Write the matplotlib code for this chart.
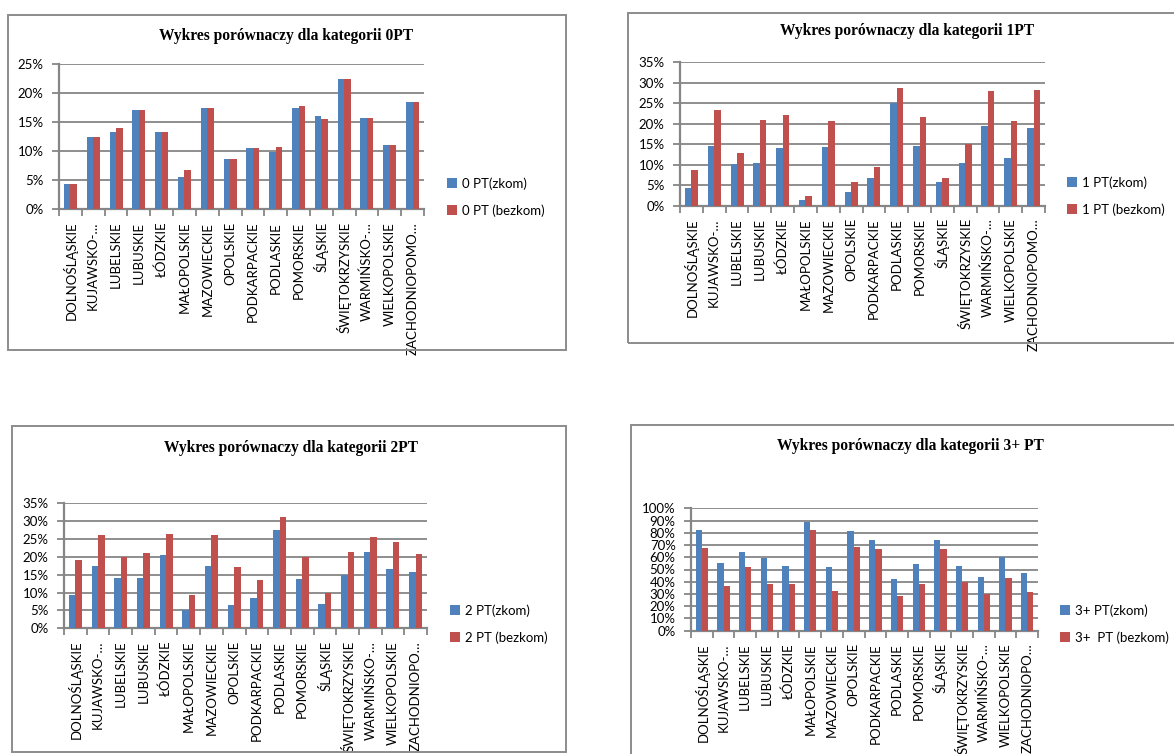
import matplotlib
matplotlib.use("Agg")
import matplotlib.pyplot as plt
from matplotlib.patches import Rectangle
import numpy as np

# Voivodeship labels (truncated as in the source spreadsheet)
regions_a = ["DOLNOŚLĄSKIE", "KUJAWSKO-…", "LUBELSKIE", "LUBUSKIE", "ŁÓDZKIE",
             "MAŁOPOLSKIE", "MAZOWIECKIE", "OPOLSKIE", "PODKARPACKIE", "PODLASKIE",
             "POMORSKIE", "ŚLĄSKIE", "ŚWIĘTOKRZYSKIE", "WARMIŃSKO-…", "WIELKOPOLSKIE",
             "ZACHODNIOPOMO…"]
regions_b = regions_a[:-1] + ["ZACHODNIOPO…"]

# Shares in percent: with (zkom) and without (bezkom) the adjustment
pt0_zkom = [4.3, 12.4, 13.3, 17.0, 13.3, 5.6, 17.4, 8.7, 10.5, 9.8, 17.4, 16.1, 22.5, 15.7, 11.1, 18.5]
pt0_bezkom = [4.3, 12.5, 14.0, 17.0, 13.3, 6.7, 17.4, 8.7, 10.5, 10.7, 17.8, 15.6, 22.5, 15.7, 11.1, 18.5]

pt1_zkom = [4.4, 14.6, 10.1, 10.3, 14.0, 1.3, 14.3, 3.3, 6.7, 25.0, 14.6, 5.8, 10.3, 19.4, 11.5, 18.9]
pt1_bezkom = [8.6, 23.3, 12.8, 20.8, 22.0, 2.4, 20.6, 5.8, 9.4, 28.7, 21.6, 6.7, 15.1, 28.0, 20.6, 28.2]

pt2_zkom = [9.2, 17.3, 14.1, 14.1, 20.4, 5.1, 17.3, 6.5, 8.5, 27.5, 13.8, 6.9, 14.8, 21.2, 16.6, 15.7]
pt2_bezkom = [19.1, 26.2, 20.0, 20.9, 26.4, 9.2, 26.2, 17.0, 13.5, 31.1, 20.0, 9.9, 21.2, 25.5, 24.2, 20.7]

pt3_zkom = [82.0, 55.3, 64.0, 59.1, 52.6, 88.6, 51.8, 81.2, 74.4, 42.0, 54.5, 74.4, 52.6, 43.9, 60.2, 46.9]
pt3_bezkom = [67.6, 36.5, 52.0, 38.1, 38.1, 82.0, 32.4, 68.4, 66.8, 28.6, 38.1, 66.8, 40.1, 29.7, 43.1, 31.6]

titles = ["Wykres porównaczy dla kategorii 0PT", "Wykres porównaczy dla kategorii 1PT",
          "Wykres porównaczy dla kategorii 2PT", "Wykres porównaczy dla kategorii 3+ PT"]
legend_labels = [("0 PT(zkom)", "0 PT (bezkom)"), ("1 PT(zkom)", "1 PT (bezkom)"),
                 ("2 PT(zkom)", "2 PT (bezkom)"), ("3+ PT(zkom)", "3+  PT (bezkom)")]
y_max = [25, 35, 35, 100]
y_step = [5, 5, 5, 10]

W, H = 1174, 754
DPI = 100
BLUE = "#4F81BD"
RED = "#C0504D"
GRID = "#868686"
SANS = ["Lato", "DejaVu Sans"]
SERIF = ["Liberation Serif", "DejaVu Serif"]

fig = plt.figure(figsize=(W / DPI, H / DPI), dpi=DPI)
fig.patch.set_facecolor("white")

# Layout in pixels: plot area (l, t, r, b), frame (l, t, r, b), title centre, legend top-left
layout = [
    dict(plot=(59, 64, 424, 209.3), frame=(8, 15, 566, 350), title=(286, 36), legend=(447, 177)),
    dict(plot=(680, 62, 1045, 205.7), frame=(628, 13, 1185, 343), title=(907, 31), legend=(1067, 176)),
    dict(plot=(64, 503, 427, 628.3), frame=(12, 426, 566, 752), title=(291, 448), legend=(450, 604)),
    dict(plot=(691, 508.3, 1038, 630.7), frame=(631, 425, 1185, 770), title=(910, 446), legend=(1060, 604)),
]

series = [(pt0_zkom, pt0_bezkom), (pt1_zkom, pt1_bezkom),
          (pt2_zkom, pt2_bezkom), (pt3_zkom, pt3_bezkom)]
labels_sets = [regions_a, regions_a, regions_b, regions_b]


def px_rect(l, t, r, b):
    return [l / W, 1 - b / H, (r - l) / W, (b - t) / H]


for k in range(4):
    lay = layout[k]
    fl, ft, fr, fb = lay["frame"]
    fig.patches.append(Rectangle((fl / W, 1 - fb / H), (fr - fl) / W, (fb - ft) / H,
                                 transform=fig.transFigure, fill=False,
                                 edgecolor="#8C8C8C", linewidth=1.4, zorder=0))
    ax = fig.add_axes(px_rect(*lay["plot"]))
    zkom, bezkom = series[k]
    x = np.arange(len(zkom))
    bw = 0.286
    b1 = ax.bar(x - bw / 2, zkom, width=bw, color=BLUE, zorder=3, label=legend_labels[k][0])
    b2 = ax.bar(x + bw / 2, bezkom, width=bw, color=RED, zorder=3, label=legend_labels[k][1])

    ax.set_xlim(-0.5, len(zkom) - 0.5)
    ax.set_ylim(0, y_max[k])
    ax.set_yticks(np.arange(0, y_max[k] + 0.1, y_step[k]))
    ax.set_yticklabels([f"{int(v)}%" for v in ax.get_yticks()], fontfamily=SANS, fontsize=9.5)
    ax.yaxis.grid(True, color=GRID, linewidth=1.3, zorder=0)
    ax.set_axisbelow(True)

    # Category boundaries carry the tick marks, centres carry the labels
    ax.set_xticks(np.arange(-0.5, len(zkom), 1.0))
    ax.set_xticklabels([])
    ax.set_xticks(x, minor=True)
    ax.set_xticklabels(labels_sets[k], minor=True, rotation=90, fontfamily=SANS,
                       fontsize=9.5, va="top", ha="center")
    ax.tick_params(axis="x", which="major", length=5, width=1.3, color=GRID, direction="out")
    ax.tick_params(axis="x", which="minor", length=0, pad=9)
    ax.tick_params(axis="y", length=5, width=1.3, color=GRID, pad=6, direction="out")

    for side in ("top", "right"):
        ax.spines[side].set_visible(False)
    for side in ("left", "bottom"):
        ax.spines[side].set_color(GRID)
        ax.spines[side].set_linewidth(1.6)

    tx, ty = lay["title"]
    fig.text(tx / W, 1 - ty / H, titles[k], ha="center", va="center",
             fontfamily=SERIF, fontweight="bold", fontsize=11.2)

    lx, ly = lay["legend"]
    ax.legend(handles=[b1, b2], loc="upper left", bbox_to_anchor=(lx / W, 1 - ly / H),
              bbox_transform=fig.transFigure, frameon=False, prop=dict(family=SANS, size=9.5),
              handlelength=0.75, handleheight=0.75, handletextpad=0.35, labelspacing=1.1,
              borderpad=0, borderaxespad=0)

fig.savefig("out.png", dpi=DPI, facecolor="white")
